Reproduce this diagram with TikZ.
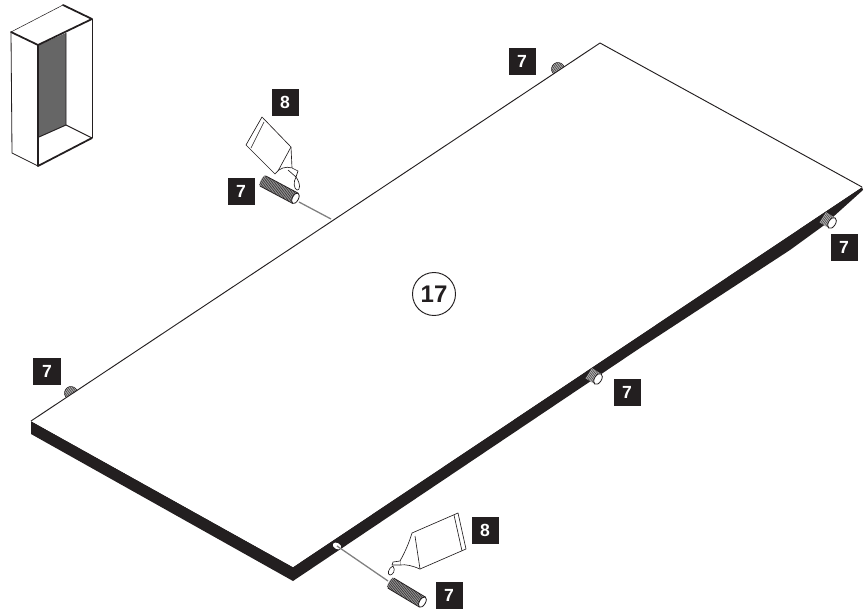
\documentclass[tikz,border=0pt]{standalone}
\usepackage{fontspec}
\setmainfont{Liberation Sans}
\definecolor{inkblack}{HTML}{231F20}
\definecolor{panelgray}{HTML}{666666}
\definecolor{wiregray}{HTML}{808080}
\tikzset{
    numbox/.style={fill=inkblack, text=white, font=\fontsize{15}{15}\selectfont\bfseries, minimum size=.81cm, inner sep=0},
    thinline/.style={draw=inkblack, line width=.45pt, line join=round},
    thickline/.style={draw=inkblack, line width=1.5pt, line cap=round, line join=round},
    wire/.style={draw=wiregray, line width=1.1pt},
    tube/.style={draw=inkblack, fill=white, line width=.55pt, line join=round}
}
\begin{document}
\begin{tikzpicture}[x=.03cm, y=-.03cm]
    \useasboundingbox (0,0) rectangle (865,615);

    % cabinet
    \fill [color=panelgray] (39,45) -- (66,33) -- (66,125) -- (39,137) -- cycle;
    \draw [thinline] (11,32) -- (63,5);
    \draw [thinline, line width=.7pt] (11,32) -- (12,153) -- (38,166);
    \draw [thinline, line width=.7pt] (92,19) -- (92,138);
    \draw [thinline, line width=.8pt] (66,33) -- (66,125) -- (92,138);
    \draw [thinline, line width=.8pt] (39,137) -- (66,125);
    \draw [thickline] (11,32) -- (38,45) -- (92,19) -- (63,5);
    \draw [thickline] (38,45) -- (38,166) -- (92,138);

    % stubs behind the back edge
    \foreach \x/\y in {558/69,71/393}
    {
        \begin{scope}[shift={(\x,\y)}, rotate=-29]
            \fill [color=gray!60] (0,0) circle (6.5);
            \begin{scope}
                \clip (0,0) circle (6.5);
                \foreach \t in {-6,-4.5,...,6}
                    {\draw [color=inkblack, line width=.3pt] (\t,-7) -- (\t,7);}
            \end{scope}
            \draw [thinline] (0,0) circle (6.5);
        \end{scope}
    }

    % board
    \fill [color=inkblack] (31,421) -- (293,567) -- (862,187) -- (863,190) -- (823,226) -- (790,250) -- (640,348) -- (500,442) -- (293,581) -- (31,434) -- cycle;
    \fill [color=white] (600,43) -- (862,187) -- (293,567) -- (31,421) -- cycle;
    \draw [thinline, line width=.8pt] (31,421) -- (600,43) -- (862,187);

    % dowels in the front edge
    \foreach \x/\y in {832/223,598/379}
    {
        \begin{scope}[shift={(\x,\y)}, rotate=-32]
            \fill [color=gray!55] (-11,-6) rectangle (0,6);
            \foreach \t in {-11,-9.5,...,0}
                {\draw [color=inkblack, line width=.3pt] (\t,-6) -- (\t,6);}
            \draw [thinline, fill=white, line width=.7pt] (0,0) ellipse (3.5 and 6);
        \end{scope}
    }

    % holes and loose dowels
    \fill [color=white, rotate around={-30:(337,546)}] (337,546) ellipse (4.5 and 3);
    \coordinate (holeTop) at (331,219);
    \coordinate (holeFront) at (337,546);
    \coordinate (dowelTop) at (299,202);
    \coordinate (dowelFront) at (388,581);
    \draw [wire] (dowelTop) -- (holeTop);
    \draw [wire] (dowelFront) -- (holeFront);

    \foreach \x/\y/\a/\l in {261/180/-28/39,389/582/-31/39}
    {
        \begin{scope}[shift={(\x,\y)}, rotate=\a]
            \fill [color=gray!80, rounded corners=3pt] (0,-5.8) rectangle (\l,5.8);
            \foreach \t in {1,2.5,...,\l}
                {\draw [color=inkblack, line width=.35pt] (\t,-5.5) -- (\t,5.5);}
            \draw [thinline, line width=.7pt] (2,-5.8) -- (\l,-5.8);
            \draw [thinline, line width=.7pt] (2,5.8) -- (\l,5.8);
            \draw [thinline, fill=white, line width=.7pt] (\l,0) ellipse (3 and 5.8);
        \end{scope}
    }

    % upper tube
    \draw [tube] (262,117) -- (291,147) -- (292,168) .. controls (286,166) and (279,168) .. (275,174) -- (246,145) -- cycle;
    \draw [tube] (264,122) -- (251,148);
    \draw [tube] (291,147) -- (278,171);
    \draw [tube] (292,168) -- (298,171) -- (296,177) -- (288,170);
    \draw [tube] (296,177) .. controls (301,184) and (300,191) .. (297,190) .. controls (294,189) and (293,182) .. (296,177);

    % lower tube
    \draw [tube] (458,513) -- (466,549) -- (420,569) .. controls (413,566) and (406,564) .. (400,565) -- (400,561) .. controls (405,552) and (409,543) .. (412,533) -- cycle;
    \draw [tube] (454,515) -- (462,551);
    \draw [tube] (415,536) -- (420,569);
    \draw [tube] (400,561) -- (393,562) -- (392,565) -- (400,565);
    \draw [tube] (393,566) .. controls (388,568) and (387,575) .. (390,575) .. controls (393,575) and (396,570) .. (393,566);

    % labels
    \node [numbox] (labelBack) at (522,61) {7};
    \node [numbox] (labelTube) at (285,102) {8};
    \node [numbox] (labelTop) at (241,191) {7};
    \node [numbox] (labelLeft) at (47,371) {7};
    \node [numbox] (labelRight) at (844,247) {7};
    \node [numbox] (labelMid) at (627,392) {7};
    \node [numbox] (labelTubeFront) at (485,530) {8};
    \node [numbox] (labelFront) at (449,595) {7};
    \node [draw=inkblack, line width=.8pt, circle, minimum size=1.29cm, inner sep=0, font=\fontsize{20.5}{20.5}\selectfont\bfseries, text=inkblack] (stepNo) at (434,294) {17};
\end{tikzpicture}
\end{document}
